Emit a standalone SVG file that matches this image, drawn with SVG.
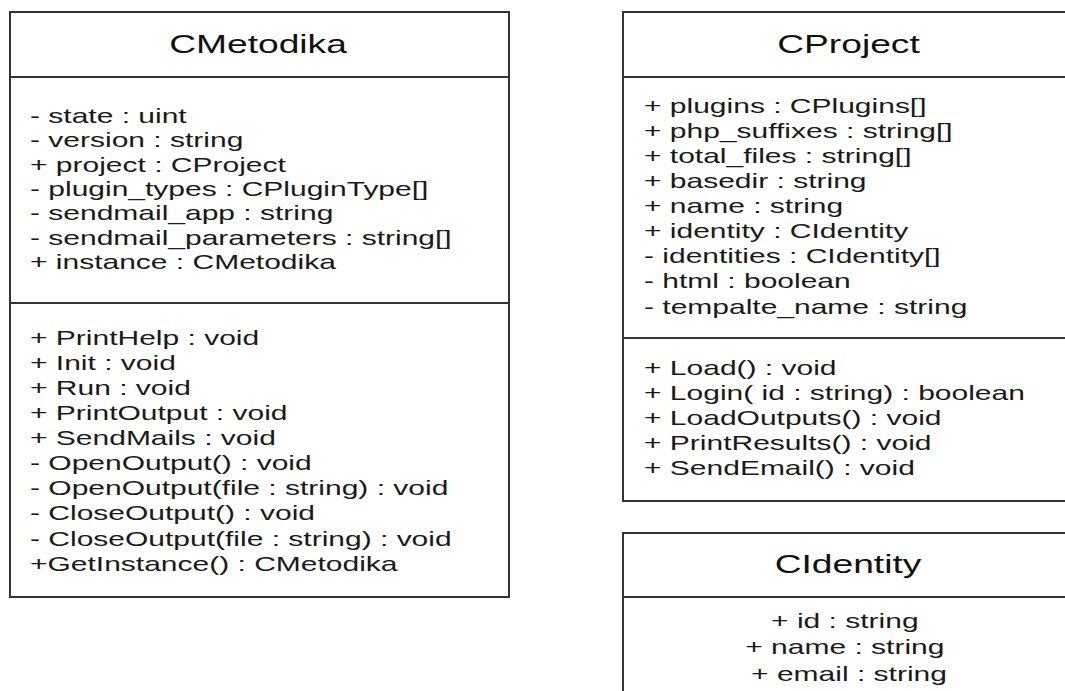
<svg xmlns="http://www.w3.org/2000/svg" width="1065" height="691" viewBox="0 0 1065 691">
<style>
.box{fill:#ffffff;stroke:#333333;stroke-width:2}
.div{stroke:#333333;stroke-width:2}
.t{font-family:"Liberation Sans",Arial,sans-serif;font-size:26px;fill:#111111;text-anchor:middle}
.b{font-family:"Liberation Sans",Arial,sans-serif;font-size:20px;fill:#1a1a1a}
.c{text-anchor:middle}
</style>
<rect width="1065" height="691" fill="#ffffff"/>
<g id="CMetodika">
<rect class="box" x="10" y="12" width="499" height="585"/>
<line class="div" x1="10" y1="77" x2="509" y2="77"/>
<line class="div" x1="10" y1="303" x2="509" y2="303"/>
<g transform="translate(258,0) scale(1.43,1)"><text class="t" x="0" y="53">CMetodika</text></g>
<g transform="translate(30,0) scale(1.5,1)">
<text class="b">
<tspan x="0" y="123">- state : uint</tspan>
<tspan x="0" y="147.5">- version : string</tspan>
<tspan x="0" y="172">+ project : CProject</tspan>
<tspan x="0" y="196">- plugin_types : CPluginType[]</tspan>
<tspan x="0" y="220.5">- sendmail_app : string</tspan>
<tspan x="0" y="245">- sendmail_parameters : string[]</tspan>
<tspan x="0" y="269">+ instance : CMetodika</tspan>
</text>
<text class="b">
<tspan x="0" y="345">+ PrintHelp : void</tspan>
<tspan x="0" y="370.5">+ Init : void</tspan>
<tspan x="0" y="395.5">+ Run : void</tspan>
<tspan x="0" y="420.5">+ PrintOutput : void</tspan>
<tspan x="0" y="445.5">+ SendMails : void</tspan>
<tspan x="0" y="470.5">- OpenOutput() : void</tspan>
<tspan x="0" y="495.5">- OpenOutput(file : string) : void</tspan>
<tspan x="0" y="520.5">- CloseOutput() : void</tspan>
<tspan x="0" y="546">- CloseOutput(file : string) : void</tspan>
<tspan x="0" y="571">+GetInstance() : CMetodika</tspan>
</text>
</g>
</g>
<g id="CProject">
<rect class="box" x="623" y="12" width="451" height="489"/>
<line class="div" x1="623" y1="77" x2="1074" y2="77"/>
<line class="div" x1="623" y1="338" x2="1074" y2="338"/>
<g transform="translate(848.5,0) scale(1.43,1)"><text class="t" x="0" y="53">CProject</text></g>
<g transform="translate(644,0) scale(1.5,1)">
<text class="b">
<tspan x="0" y="113">+ plugins : CPlugins[]</tspan>
<tspan x="0" y="138">+ php_suffixes : string[]</tspan>
<tspan x="0" y="163">+ total_files : string[]</tspan>
<tspan x="0" y="188">+ basedir : string</tspan>
<tspan x="0" y="213">+ name : string</tspan>
<tspan x="0" y="238">+ identity : CIdentity</tspan>
<tspan x="0" y="263">- identities : CIdentity[]</tspan>
<tspan x="0" y="288">- html : boolean</tspan>
<tspan x="0" y="314">- tempalte_name : string</tspan>
</text>
<text class="b">
<tspan x="0" y="375">+ Load() : void</tspan>
<tspan x="0" y="400">+ Login( id : string) : boolean</tspan>
<tspan x="0" y="425">+ LoadOutputs() : void</tspan>
<tspan x="0" y="450">+ PrintResults() : void</tspan>
<tspan x="0" y="475">+ SendEmail() : void</tspan>
</text>
</g>
</g>
<g id="CIdentity">
<rect class="box" x="623" y="533" width="451" height="170"/>
<line class="div" x1="623" y1="597" x2="1074" y2="597"/>
<g transform="translate(848,0) scale(1.43,1)"><text class="t" x="0" y="573">CIdentity</text></g>
<g transform="translate(849,0) scale(1.5,1)">
<text class="b c">
<tspan x="0" y="628">+ id : string</tspan>
<tspan x="0" y="654.5">+ name : string</tspan>
<tspan x="0" y="681">+ email : string</tspan>
</text>
</g>
</g>
<g id="connectors"></g>
</svg>
